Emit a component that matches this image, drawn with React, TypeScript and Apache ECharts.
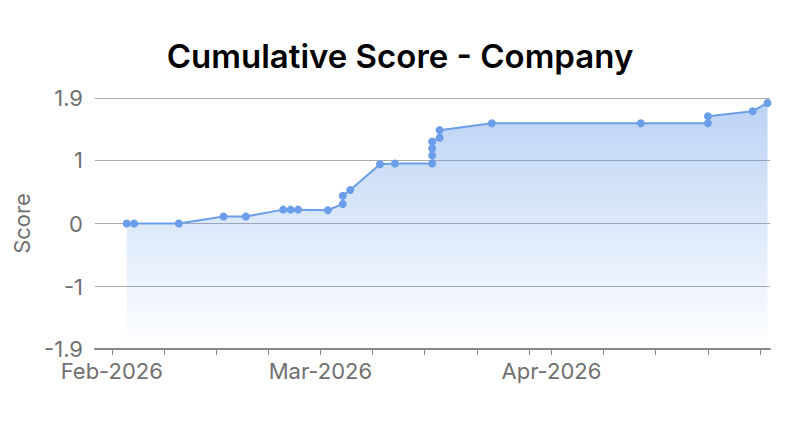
import React, { useEffect, useRef } from 'react';
import * as echarts from 'echarts';

// cumulative score per entry date
const dates = [
  '2026-02-03', '2026-02-04', '2026-02-10', '2026-02-16', '2026-02-19',
  '2026-02-24', '2026-02-25', '2026-02-26', '2026-03-02', '2026-03-04',
  '2026-03-04', '2026-03-05', '2026-03-09', '2026-03-11', '2026-03-16',
  '2026-03-16', '2026-03-16', '2026-03-16', '2026-03-17', '2026-03-17',
  '2026-03-24', '2026-04-13', '2026-04-22', '2026-04-22', '2026-04-28',
  '2026-04-30',
];
const scores = [
  0, 0, 0, 0.11, 0.11,
  0.22, 0.22, 0.22, 0.21, 0.31,
  0.44, 0.53, 0.94, 0.95, 0.95,
  1.08, 1.19, 1.3, 1.36, 1.48,
  1.59, 1.59, 1.59, 1.7, 1.78,
  1.91,
];
const monthNames = ['Jan', 'Feb', 'Mar', 'Apr', 'May', 'Jun', 'Jul', 'Aug', 'Sep', 'Oct', 'Nov', 'Dec'];

const FONT = 'Inter, "Noto Sans", sans-serif';

export default function App() {
  const ref = useRef<HTMLDivElement>(null);

  useEffect(() => {
    if (!ref.current) return;
    const chart = echarts.init(ref.current, null, { renderer: 'svg' });

    chart.setOption({
      animation: false,
      title: {
        text: 'Cumulative Score - Company',
        left: 'center',
        top: 26,
        textStyle: { fontFamily: FONT, fontSize: 33, fontWeight: 600, color: '#000' },
      },
      grid: { left: 87, right: 22, top: 90, bottom: 74, containLabel: false, outerBoundsMode: 'none' },
      xAxis: {
        type: 'time',
        min: '2026-01-29T18:00:00',
        max: '2026-04-30T08:00:00',
        axisLine: { onZero: false, lineStyle: { color: '#888', width: 2 } },
        axisTick: { show: true, lineStyle: { color: '#888' }, length: 6 },
        splitLine: { show: false },
        axisLabel: {
          fontFamily: FONT,
          fontSize: 22,
          color: '#707070',
          margin: 11,
          hideOverlap: false,
          formatter: (v: number) => {
            const d = new Date(v);
            return d.getDate() === 1 ? `${monthNames[d.getMonth()]}-${d.getFullYear()}` : '';
          },
        },
      },
      yAxis: {
        type: 'value',
        min: -1.99,
        max: 1.99,
        name: 'Score',
        nameLocation: 'middle',
        nameGap: 60,
        nameTextStyle: { fontFamily: FONT, fontSize: 22, color: '#707070' },
        axisLine: { show: false },
        axisTick: { show: false },
        splitLine: { lineStyle: { color: '#aaa', width: 1 } },
        axisLabel: {
          fontFamily: FONT,
          fontSize: 22,
          color: '#707070',
          margin: 12,
          formatter: (v: number) => String(Math.trunc(v * 10) / 10),
        },
      },
      series: [
        {
          type: 'line',
          data: dates.map((d, i) => [d, scores[i]]),
          symbol: 'circle',
          symbolSize: 8,
          showSymbol: true,
          lineStyle: { color: '#6b9ee8', width: 2 },
          itemStyle: { color: '#6b9ee8' },
          areaStyle: {
            origin: 'start',
            color: new echarts.graphic.LinearGradient(0, 0, 0, 1, [
              { offset: 0, color: 'rgba(107,158,232,0.65)' },
              { offset: 1, color: 'rgba(107,158,232,0)' },
            ]),
          },
        },
      ],
    });

    return () => chart.dispose();
  }, []);

  return <div ref={ref} style={{ width: 784, height: 415 }} />;
}
